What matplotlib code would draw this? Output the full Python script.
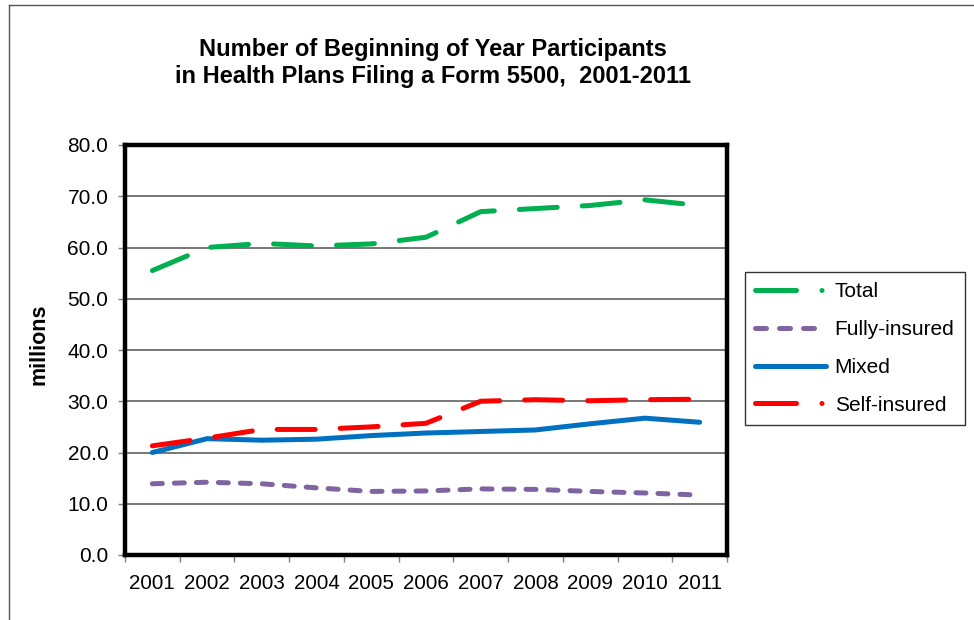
import matplotlib.pyplot as plt
from matplotlib.lines import Line2D
import numpy as np

plt.rcParams['font.family'] = ['Liberation Sans', 'DejaVu Sans']

years = ['2001', '2002', '2003', '2004', '2005', '2006',
         '2007', '2008', '2009', '2010', '2011']
total = [55.5, 60.0, 60.8, 60.3, 60.7, 62.0, 67.0, 67.6, 68.2, 69.3, 68.2]
fully = [13.9, 14.2, 13.9, 13.1, 12.4, 12.5, 12.9, 12.8, 12.4, 12.1, 11.7]
mixed = [20.0, 22.7, 22.4, 22.6, 23.3, 23.8, 24.1, 24.4, 25.6, 26.7, 25.9]
selfi = [21.3, 22.8, 24.5, 24.5, 25.0, 25.7, 30.0, 30.3, 30.1, 30.3, 30.4]

green = '#00b050'
purple = '#8064a2'
blue = '#0070c0'
red = '#ff0000'

x = np.arange(len(years))

fig = plt.figure(figsize=(9.74, 6.2), dpi=100)
ax = fig.add_axes([125/974, 1-555/620, 602/974, 410/620])

lw = 3.6
ax.plot(x, total, color=green, lw=lw, dashes=(7.6, 5), dash_capstyle='round', zorder=3)
ax.plot(x, fully, color=purple, lw=lw, dashes=(2.0, 2.4), dash_capstyle='round', zorder=3)
ax.plot(x, mixed, color=blue, lw=lw, solid_capstyle='round', zorder=3)
ax.plot(x, selfi, color=red, lw=lw, dashes=(7.6, 5), dash_capstyle='round', zorder=3)

ax.set_xlim(-0.5, 10.5)
ax.set_ylim(0, 80)
ax.set_yticks(np.arange(0, 81, 10))
ax.set_yticklabels(['%.1f' % v for v in np.arange(0, 81, 10)])
ax.set_xticks(x)
ax.set_xticklabels(years)
ax.set_xticks(np.arange(-0.5, 11, 1), minor=True)
ax.tick_params(axis='x', which='major', length=0, pad=14, labelsize=14.8)
ax.tick_params(axis='x', which='minor', length=5, color='#808080', width=1)
ax.tick_params(axis='y', length=5, color='#808080', width=1, labelsize=15, pad=7)
ax.yaxis.grid(True, color='#606060', lw=1.2)
ax.set_axisbelow(True)
for s in ax.spines.values():
    s.set_linewidth(3.2)
    s.set_color('black')
ax.set_ylabel('millions', fontsize=15.5, fontweight='bold')
ax.yaxis.set_label_coords(-0.125, 0.515)

fig.text(433/974, 1-63/620,
         'Number of Beginning of Year Participants\nin Health Plans Filing a Form 5500,  2001-2011',
         ha='center', va='center', fontsize=17, fontweight='bold', linespacing=1.2)

# figure border (top and left visible)
fig.add_artist(Line2D([9/974, 9/974], [0, 1-5/620], color='#555555', lw=1))
fig.add_artist(Line2D([9/974, 1], [1-5/620, 1-5/620], color='#555555', lw=1))

handles = [
    Line2D([], [], color=green, lw=lw, dashes=(8.2, 5.1, 0.01, 20), dash_capstyle='round'),
    Line2D([], [], color=purple, lw=lw, dashes=(2.2, 2.6), dash_capstyle='round'),
    Line2D([], [], color=blue, lw=lw, solid_capstyle='round'),
    Line2D([], [], color=red, lw=lw, dashes=(8.2, 5.1, 0.01, 20), dash_capstyle='round'),
]
labels = ['Total', 'Fully-insured', 'Mixed', 'Self-insured']
leg = fig.legend(handles, labels, loc='upper left',
                 bbox_to_anchor=(745/974, 1-272/620), fontsize=15,
                 frameon=True, fancybox=False, handlelength=3.4,
                 labelspacing=0.9, borderpad=0.5, handletextpad=0.4,
                 borderaxespad=0)
leg.get_frame().set_edgecolor('black')
leg.get_frame().set_linewidth(1)

fig.savefig('out.png', dpi=100)
